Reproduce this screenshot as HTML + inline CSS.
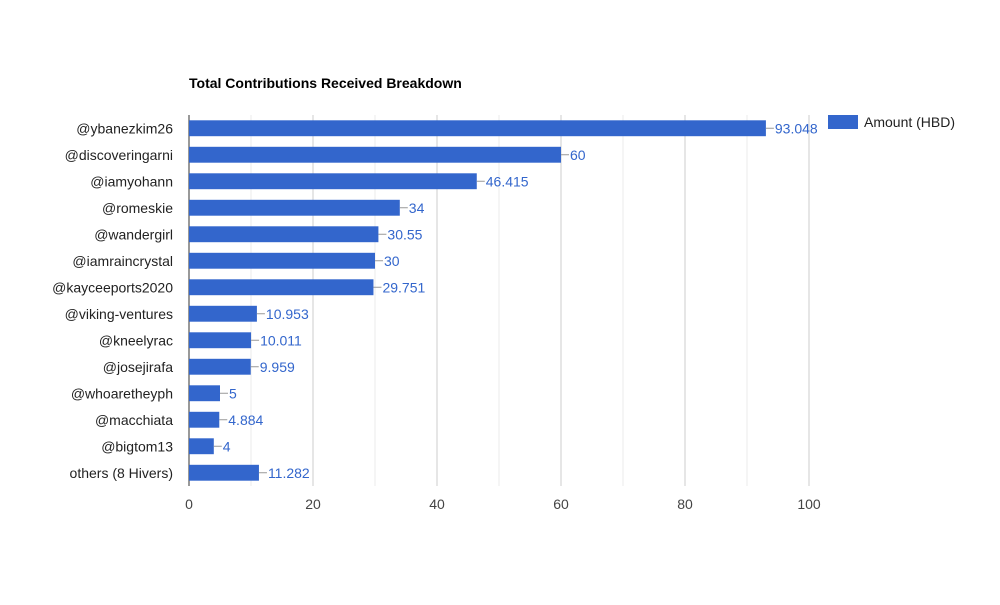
<!DOCTYPE html>
<html><head><meta charset="utf-8"><style>
body{margin:0;background:#fff;}
svg text{font-family:"Liberation Sans",Arial,sans-serif;}
</style></head><body>
<svg id="chart" width="1000" height="600" xmlns="http://www.w3.org/2000/svg">
<rect width="1000" height="600" fill="#fff"/>
<text x="189" y="88" font-size="14" font-weight="bold" fill="#000">Total Contributions Received Breakdown</text>
<g>
<rect x="828" y="115" width="30" height="14" fill="#3366cc"/>
<text x="864" y="127" font-size="14" fill="#222">Amount (HBD)</text>
</g>
<g id="grid"></g><g id="bars"></g><g id="ylabels"></g><g id="xlabels"></g>
</svg>
<script>
const categories=["@ybanezkim26","@discoveringarni","@iamyohann","@romeskie","@wandergirl","@iamraincrystal","@kayceeports2020","@viking-ventures","@kneelyrac","@josejirafa","@whoaretheyph","@macchiata","@bigtom13","others (8 Hivers)"];
const values=[93.048,60,46.415,34,30.55,30,29.751,10.953,10.011,9.959,5,4.884,4,11.282];
const valueLabels=["93.048","60","46.415","34","30.55","30","29.751","10.953","10.011","9.959","5","4.884","4","11.282"];
const xTicks=[0,20,40,60,80,100];
const minorTicks=[10,30,50,70,90];
const NS="http://www.w3.org/2000/svg";
const x0=189,x1=809,yTop=115,yBot=486,xMax=100;
const xs=v=>x0+(v/xMax)*(x1-x0);
const band=(yBot-yTop)/categories.length;
const yb=i=>yTop+band*i;
function mk(t,a,p){const e=document.createElementNS(NS,t);for(const k in a)e.setAttribute(k,a[k]);p.appendChild(e);return e;}
const grid=document.getElementById('grid'),bars=document.getElementById('bars'),yl=document.getElementById('ylabels'),xl=document.getElementById('xlabels');
minorTicks.forEach(t=>{const l=mk('line',{x1:xs(t),x2:xs(t),y1:yTop,y2:yBot,stroke:'#ebebeb'},grid);

});
xTicks.forEach(t=>{if(t>0){const l=mk('line',{x1:xs(t),x2:xs(t),y1:yTop,y2:yBot,stroke:'#cccccc'},grid);

}
const tx=mk('text',{x:xs(t),y:509,'font-size':14,fill:'#444','text-anchor':'middle'},xl);tx.textContent=t;

});
categories.forEach((c,i)=>{const h=band*0.6,y=yb(i)+(band-h)/2,w=xs(values[i])-x0;
const r=mk('rect',{x:x0,y:y,width:w,height:h,fill:'#3366cc'},bars);


const cy=y+h/2,ex=xs(values[i]);
const ln=mk('line',{x1:ex,x2:ex+8,y1:cy,y2:cy,stroke:'#999'},bars);


const vt=mk('text',{x:ex+9,y:cy+5,'font-size':14,fill:'#3366cc'},bars);vt.textContent=valueLabels[i];


const lt=mk('text',{x:173,y:cy+5,'font-size':14,fill:'#222','text-anchor':'end'},yl);lt.textContent=c;

});
const ax=mk('line',{x1:x0,x2:x0,y1:yTop,y2:yBot,stroke:'#333'},grid);


</script>
</body></html>
